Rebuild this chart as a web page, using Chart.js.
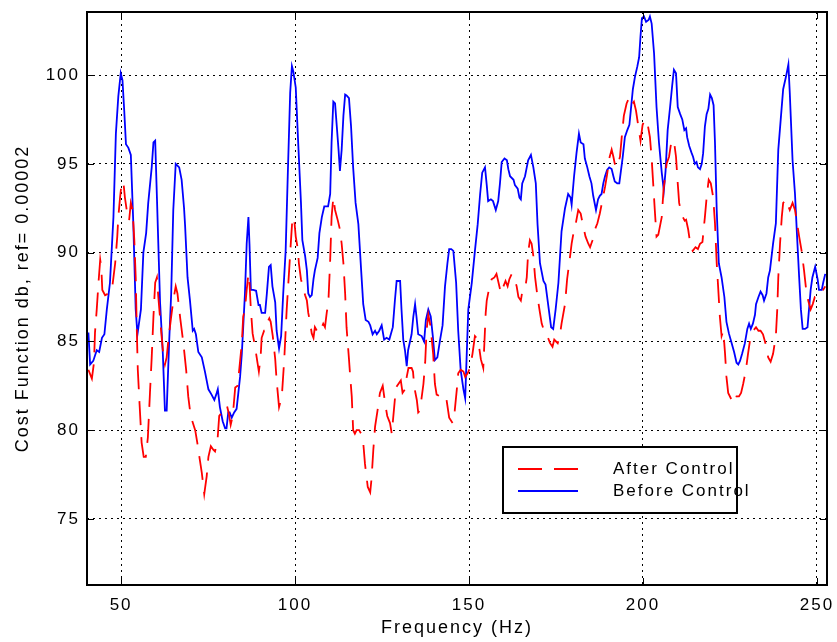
<!DOCTYPE html>
<html>
<head>
<meta charset="utf-8">
<script src="https://cdn.jsdelivr.net/npm/chart.js@4.4.1/dist/chart.umd.min.js"></script>
<style>
    html, body { margin: 0; padding: 0; background: #ffffff; }
    canvas { display: block; }
</style>
</head>
<body>
<canvas id="costChart" width="837" height="642"></canvas>
<script>
// values
const freqBefore = [
    40.6, 41.1, 42.0, 43.0, 43.7, 44.5, 45.2, 45.9, 46.8, 47.8, 48.5, 49.2, 49.9, 50.4, 50.9, 51.4, 52.1, 52.8, 53.5, 54.2,
    54.7, 55.7, 56.4, 57.2, 57.8, 58.8, 59.3, 59.8, 60.3, 61.2, 62.0, 62.6, 63.1, 63.8, 64.4, 65.0, 65.7, 66.7, 67.4, 68.1,
    68.4, 69.1, 69.8, 70.6, 71.0, 71.5, 72.2, 73.2, 74.1, 75.1, 76.0, 76.8, 77.5, 77.8, 78.4, 79.2, 79.9, 80.3, 80.8, 81.2,
    81.8, 82.5, 83.2, 83.7, 84.2, 84.7, 85.1, 85.6, 86.1, 86.6, 86.9, 87.3, 88.0, 88.8, 89.5, 89.9, 90.4, 91.4, 91.9, 92.5,
    93.0, 93.5, 94.3, 94.7, 95.4, 96.0, 96.6, 97.3, 97.9, 98.6, 99.1, 99.5, 100.2, 100.9, 101.7, 102.1, 102.9, 103.4, 103.8, 104.3,
    104.8, 105.3, 105.7, 106.5, 107.0, 107.7, 108.4, 109.0, 109.5, 110.1, 110.5, 111.0, 111.5, 112.0, 112.5, 112.9, 113.4, 113.9, 114.4, 114.8,
    115.5, 116.1, 116.7, 117.4, 118.2, 119.0, 119.6, 120.3, 121.1, 121.6, 122.3, 123.0, 123.5, 124.2, 124.9, 125.6, 126.3, 127.1, 128.1, 128.7,
    129.2, 130.2, 130.6, 131.1, 131.6, 132.1, 132.5, 133.5, 134.0, 134.5, 134.9, 135.4, 136.4, 137.1, 137.6, 138.3, 139.0, 139.6, 140.2, 140.9,
    141.7, 142.4, 143.1, 143.8, 144.3, 144.9, 145.5, 146.3, 146.9, 147.6, 148.4, 148.9, 149.3, 149.8, 150.8, 151.7, 152.5, 153.2, 153.8, 154.6,
    155.1, 155.5, 156.3, 156.9, 157.7, 158.4, 158.9, 159.4, 160.2, 160.9, 161.3, 161.8, 162.8, 163.2, 164.0, 164.5, 164.9, 165.3, 166.1, 166.6,
    167.0, 167.8, 168.5, 169.2, 169.7, 170.4, 171.4, 172.0, 172.8, 173.6, 174.2, 174.9, 175.7, 176.6, 177.6, 178.5, 179.2, 179.5, 180.2, 180.9,
    181.6, 182.1, 182.9, 183.3, 184.0, 184.6, 185.2, 185.7, 186.5, 187.1, 187.6, 188.1, 188.6, 189.1, 189.7, 190.3, 191.0, 191.5, 191.9, 192.6,
    193.2, 193.6, 194.2, 194.8, 195.5, 196.1, 196.5, 197.1, 197.7, 198.4, 198.9, 199.3, 199.7, 200.3, 200.9, 201.6, 202.0, 202.5, 203.2, 203.9,
    204.6, 205.4, 206.0, 206.5, 207.1, 207.8, 208.4, 208.9, 209.5, 210.0, 210.7, 211.3, 211.9, 212.4, 212.7, 213.3, 214.0, 214.4, 214.9, 215.4,
    215.8, 216.4, 216.9, 217.3, 217.8, 218.3, 218.8, 219.3, 219.8, 220.3, 220.7, 221.2, 221.8, 222.6, 223.4, 224.0, 224.7, 225.5, 226.2, 226.9,
    227.4, 227.9, 228.5, 229.3, 230.0, 230.5, 231.0, 231.6, 232.2, 232.5, 233.2, 233.8, 234.4, 234.8, 235.5, 236.0, 236.5, 237.4, 238.2, 238.9,
    239.6, 240.3, 241.1, 241.8, 242.2, 243.0, 243.7, 244.3, 244.9, 245.4, 245.9, 246.6, 247.3, 248.2, 248.7, 249.5, 250.2, 250.6, 251.4, 251.8,
    252.4
];
const costBefore = [
    85.5, 83.7, 83.9, 84.5, 84.4, 85.2, 85.4, 86.8, 88.3, 92.0, 96.7, 98.8, 100.1, 99.7, 98.0, 96.1, 95.9, 95.5, 91.7, 86.8,
    85.4, 86.8, 90.0, 91.1, 92.8, 94.8, 96.2, 96.3, 93.1, 87.2, 84.3, 81.1, 81.1, 84.9, 87.7, 92.4, 95.0, 94.8, 94.1, 92.5,
    91.5, 88.6, 87.3, 85.6, 85.7, 85.4, 84.4, 84.1, 83.3, 82.3, 82.0, 81.7, 82.1, 82.3, 81.3, 80.5, 80.1, 80.1, 81.0, 81.0,
    80.7, 81.0, 81.2, 82.1, 83.0, 84.3, 85.8, 87.7, 90.5, 92.0, 90.5, 87.9, 87.9, 87.85, 87.05, 87.05, 86.6, 86.6, 87.7, 89.2,
    89.3, 88.1, 87.2, 85.6, 84.6, 85.3, 87.7, 90.1, 94.3, 99.0, 100.5, 100.2, 99.3, 96.2, 92.8, 90.7, 89.8, 89.0, 87.7, 87.5,
    87.6, 88.5, 89.0, 89.7, 91.1, 92.0, 92.6, 92.6, 92.6, 93.3, 96.2, 98.5, 98.4, 97.1, 95.8, 94.6, 95.8, 97.7, 98.9, 98.85,
    98.7, 97.1, 94.8, 92.8, 91.6, 89.0, 87.1, 86.2, 86.1, 85.9, 85.4, 85.6, 85.4, 85.6, 85.9, 85.1, 85.2, 85.1, 85.8, 87.3,
    88.4, 88.4, 86.8, 85.1, 84.5, 83.6, 84.5, 85.4, 86.4, 87.1, 86.4, 85.4, 85.3, 85.0, 86.2, 86.8, 86.4, 85.3, 83.95, 84.1,
    85.1, 85.9, 88.1, 89.4, 90.2, 90.2, 90.1, 88.3, 85.6, 83.4, 82.3, 81.8, 84.0, 86.8, 88.3, 90.1, 91.6, 93.3, 94.5, 94.8,
    93.8, 92.9, 93.0, 92.9, 92.4, 92.9, 93.9, 95.1, 95.3, 95.2, 94.7, 94.3, 94.1, 93.8, 93.6, 93.1, 93.0, 93.9, 94.3, 94.8,
    95.2, 95.5, 94.8, 93.9, 91.6, 89.4, 88.4, 88.2, 87.0, 85.8, 85.7, 86.8, 88.3, 91.2, 92.5, 93.3, 93.1, 92.7, 94.3, 95.6,
    96.7, 96.2, 96.1, 95.3, 94.8, 94.3, 93.9, 93.2, 92.4, 93.0, 93.2, 93.3, 93.9, 94.3, 94.65, 94.8, 94.7, 94.3, 94.0, 93.9,
    93.9, 94.5, 95.4, 96.5, 96.9, 97.2, 98.0, 99.2, 99.9, 100.5, 101.0, 102.2, 103.2, 103.3, 103.0, 103.1, 103.3, 102.9, 101.2, 98.2,
    96.2, 94.5, 93.5, 94.6, 96.9, 98.2, 99.4, 100.3, 100.1, 98.2, 97.8, 97.5, 96.9, 97.0, 96.5, 96.0, 95.6, 95.4, 95.0, 95.1,
    94.8, 94.7, 95.0, 95.6, 97.1, 97.8, 98.1, 98.9, 98.7, 98.3, 96.2, 92.4, 89.4, 88.6, 87.5, 86.1, 85.45, 84.9, 84.4, 83.8,
    83.7, 83.9, 84.3, 84.9, 85.7, 86.0, 85.7, 86.0, 86.5, 87.1, 87.5, 87.8, 87.6, 87.3, 87.7, 88.6, 89.0, 90.5, 91.65, 95.8,
    97.5, 99.2, 99.9, 100.6, 99.0, 95.2, 93.3, 90.9, 88.6, 86.8, 85.7, 85.7, 85.8, 87.9, 88.6, 89.2, 88.5, 87.9, 87.9, 88.3,
    88.8
];
const freqAfter = [
    40.6, 41.6, 42.2, 42.5, 43.0, 43.5, 44.0, 44.3, 44.6, 45.4, 46.4, 47.3, 48.3, 48.9, 49.2, 49.7, 50.2, 50.7, 51.1, 51.9,
    52.3, 52.8, 53.3, 53.8, 54.2, 54.5, 54.8, 55.3, 55.9, 56.5, 57.1, 57.7, 58.3, 58.8, 59.3, 59.8, 60.3, 60.7, 61.5, 62.2,
    62.6, 63.1, 63.6, 64.4, 65.0, 65.7, 66.2, 67.0, 67.9, 68.7, 69.3, 70.0, 71.3, 71.9, 72.5, 73.2, 73.9, 74.6, 75.1, 75.8,
    76.5, 77.0, 77.7, 78.2, 79.0, 79.7, 80.4, 81.0, 81.5, 82.1, 82.8, 83.5, 84.0, 84.7, 85.1, 85.6, 86.1, 86.6, 86.9, 87.3,
    87.8, 88.5, 89.2, 89.6, 90.1, 90.4, 91.1, 91.6, 92.1, 92.6, 93.0, 93.6, 94.3, 94.7, 95.4, 96.2, 96.9, 97.6, 98.3, 98.9,
    99.2, 99.7, 100.2, 100.8, 101.1, 101.7, 102.2, 102.9, 103.4, 103.8, 104.3, 104.8, 105.3, 105.7, 106.7, 107.5, 108.1, 108.6, 109.1, 109.6,
    110.1, 110.5, 111.0, 111.5, 112.3, 112.9, 113.4, 113.9, 114.4, 114.8, 115.5, 115.9, 116.3, 116.7, 117.2, 117.7, 118.4, 119.0, 119.6, 120.1,
    120.9, 121.6, 122.0, 122.5, 123.0, 123.7, 124.4, 125.2, 125.9, 126.5, 127.3, 127.8, 128.4, 129.0, 129.7, 130.4, 130.9, 131.6, 132.1, 132.6,
    133.5, 133.9, 134.3, 135.0, 135.4, 135.9, 136.9, 137.4, 137.8, 138.3, 138.8, 139.2, 139.7, 140.2, 140.7, 141.7, 142.6, 143.4, 144.3, 145.3,
    145.9, 146.5, 146.9, 147.6, 148.4, 148.9, 149.6, 150.3, 151.0, 151.7, 152.6, 153.4, 154.1, 154.4, 154.8, 155.1, 155.7, 156.5, 157.3, 157.9,
    159.2, 159.9, 160.5, 161.1, 161.6, 162.3, 163.1, 163.7, 164.2, 164.9, 165.3, 166.1, 166.6, 167.0, 167.5, 168.0, 168.5, 169.0, 169.7, 170.4,
    170.9, 171.6, 172.3, 173.3, 174.0, 174.5, 175.5, 176.1, 176.6, 177.6, 178.2, 178.8, 179.5, 180.2, 180.7, 181.4, 182.1, 182.8, 183.5, 184.3,
    184.8, 185.5, 186.2, 186.9, 187.6, 188.3, 189.1, 189.7, 190.3, 191.0, 191.5, 192.0, 192.6, 193.4, 193.9, 194.5, 195.3, 196.0, 196.7, 197.4,
    198.0, 198.6, 199.3, 199.9, 200.6, 201.2, 202.0, 202.5, 203.0, 203.4, 203.9, 204.4, 205.4, 205.9, 206.8, 207.5, 208.2, 208.9, 209.5, 210.0,
    210.4, 211.2, 212.0, 212.4, 213.0, 213.6, 214.3, 215.1, 215.8, 216.4, 217.1, 217.8, 218.3, 218.9, 219.5, 220.2, 220.7, 221.2, 221.6, 222.1,
    222.6, 223.1, 223.6, 224.0, 224.5, 225.5, 226.2, 226.9, 227.6, 228.2, 228.8, 229.6, 230.2, 230.8, 231.7, 232.5, 233.2, 233.8, 234.5, 235.2,
    236.0, 236.7, 237.4, 238.2, 238.6, 238.9, 239.4, 239.9, 240.3, 240.8, 241.3, 241.8, 242.2, 243.0, 243.7, 244.3, 244.9, 245.6, 246.3, 246.8,
    247.5, 248.2, 248.8, 249.4, 250.1, 250.8, 251.8, 252.4
];
const costAfter = [
    83.4, 82.9, 83.8, 85.5, 86.8, 88.3, 89.6, 89.2, 87.9, 87.6, 87.7, 87.8, 89.4, 90.9, 92.0, 93.1, 94.0, 93.9, 93.1, 92.0,
    91.8, 92.8, 92.4, 90.7, 88.6, 85.8, 83.4, 81.5, 79.3, 78.5, 78.5, 79.6, 82.1, 84.1, 86.4, 88.3, 88.6, 87.5, 85.6, 84.1,
    83.7, 84.1, 85.1, 86.4, 87.3, 88.1, 87.7, 86.3, 84.9, 83.4, 81.9, 80.8, 80.0, 79.3, 78.5, 77.6, 76.4, 77.4, 78.5, 79.1,
    78.9, 78.8, 79.4, 80.8, 81.0, 81.1, 81.4, 80.9, 80.3, 80.8, 82.4, 82.5, 83.5, 84.9, 86.4, 86.8, 87.9, 88.8, 88.3, 86.8,
    85.45, 84.7, 83.8, 83.3, 84.1, 85.2, 85.6, 85.6, 86.1, 86.3, 86.1, 85.3, 84.0, 82.8, 81.3, 81.9, 84.0, 86.8, 89.0, 90.9,
    91.8, 92.0, 90.9, 90.2, 89.4, 88.5, 88.1, 87.6, 87.3, 86.6, 86.1, 85.45, 85.2, 85.8, 85.45, 85.7, 86.0, 85.8, 86.6, 87.3,
    89.6, 92.0, 93.1, 92.4, 91.8, 91.3, 90.5, 89.4, 87.7, 85.8, 84.0, 82.9, 81.9, 80.0, 79.8, 80.0, 80.0, 79.8, 79.3, 78.1,
    76.8, 76.5, 77.3, 78.9, 80.2, 81.1, 82.1, 82.5, 81.5, 80.8, 80.4, 79.8, 81.1, 82.4, 82.6, 82.8, 82.1, 82.3, 83.0, 83.5,
    83.5, 83.3, 82.4, 81.7, 81.0, 81.1, 82.6, 83.8, 85.6, 86.5, 86.0, 85.3, 84.3, 82.6, 82.0, 81.9, 82.0, 81.9, 80.7, 80.4,
    81.1, 82.3, 83.2, 83.4, 83.3, 83.0, 83.2, 83.5, 84.3, 85.3, 85.1, 84.0, 83.5, 84.8, 86.6, 87.3, 87.9, 88.5, 88.6, 88.8,
    87.7, 88.1, 88.4, 88.1, 88.5, 88.8, 88.5, 88.1, 87.5, 87.3, 87.8, 87.9, 88.6, 90.0, 90.7, 90.5, 89.8, 88.6, 87.5, 86.6,
    86.0, 85.6, 85.4, 84.9, 84.7, 85.1, 84.9, 85.3, 86.0, 87.1, 88.5, 89.4, 90.5, 91.3, 91.65, 92.4, 92.2, 91.5, 90.9, 90.5,
    90.3, 90.7, 91.3, 91.65, 92.2, 92.9, 93.7, 94.4, 95.3, 95.8, 95.4, 94.9, 94.8, 95.4, 96.5, 97.7, 98.4, 98.7, 98.3, 98.5,
    98.0, 97.2, 96.3, 97.2, 97.5, 97.4, 96.5, 95.3, 93.7, 92.4, 90.9, 91.0, 92.0, 93.5, 95.0, 95.4, 96.3, 96.3, 95.4, 93.9,
    92.8, 92.1, 91.8, 91.85, 91.3, 90.5, 90.1, 90.3, 90.2, 90.5, 90.6, 92.0, 93.1, 94.1, 93.9, 93.1, 91.65, 89.4, 88.1, 86.4,
    85.3, 85.6, 84.3, 83.0, 82.1, 81.7, 81.5, 81.9, 81.9, 82.1, 82.6, 83.4, 84.3, 85.1, 85.6, 85.8, 85.6, 85.6, 85.4, 84.9,
    84.1, 83.85, 84.3, 85.3, 86.8, 88.6, 90.5, 92.0, 92.8, 92.9, 93.0, 92.6, 92.4, 92.8, 92.4, 91.65, 90.9, 90.1, 89.0, 88.1,
    87.3, 86.8, 87.1, 87.5, 87.5, 87.5, 87.9, 88.1
];

const xTicks = [50, 100, 150, 200, 250];
const yTicks = [75, 80, 85, 90, 95, 100];
const seriesNames = ["After Control", "Before Control"];

const textFont = "'Liberation Sans', Arial, sans-serif";
const spacing = "2px";

function toPoints(xs, ys) {
    return xs.map((x, i) => ({ x: x, y: ys[i] }));
}

// MATLAB style frame: box round the axes with ticks pointing inward
const framePlugin = {
    id: "frame",
    beforeLayout(chart) {
        chart.ctx.letterSpacing = spacing;
    },
    beforeDraw(chart) {
        chart.ctx.letterSpacing = spacing;
    },
    afterDatasetsDraw(chart) {
        const { ctx, chartArea: a, scales } = chart;
        const len = 7;
        ctx.save();
        ctx.strokeStyle = "#000000";
        ctx.lineWidth = 1;
        ctx.beginPath();
        xTicks.forEach((v) => {
            const px = Math.round(scales.x.getPixelForValue(v)) + 0.5;
            ctx.moveTo(px, a.bottom);
            ctx.lineTo(px, a.bottom - len);
            ctx.moveTo(px, a.top);
            ctx.lineTo(px, a.top + len);
        });
        yTicks.forEach((v) => {
            const py = Math.round(scales.y.getPixelForValue(v)) + 0.5;
            ctx.moveTo(a.left, py);
            ctx.lineTo(a.left + len, py);
            ctx.moveTo(a.right, py);
            ctx.lineTo(a.right - len, py);
        });
        ctx.stroke();
        ctx.lineWidth = 2;
        ctx.strokeRect(a.left, a.top, a.right - a.left, a.bottom - a.top);
        ctx.restore();
    },
    afterDraw(chart) {
        // legend box, lower right of the axes
        const { ctx, chartArea: a } = chart;
        const box = { left: a.left + 416, top: a.top + 435, width: 234, height: 66 };
        ctx.save();
        ctx.fillStyle = "#ffffff";
        ctx.fillRect(box.left, box.top, box.width, box.height);
        ctx.lineWidth = 2;
        ctx.strokeStyle = "#000000";
        ctx.strokeRect(box.left, box.top, box.width, box.height);
        ctx.font = "17px " + textFont;
        ctx.letterSpacing = spacing;
        ctx.textBaseline = "middle";
        ctx.fillStyle = "#000000";
        chart.data.datasets.forEach((ds, i) => {
            const y = box.top + 22 + i * 22;
            ctx.strokeStyle = ds.borderColor;
            ctx.lineWidth = ds.borderWidth;
            ctx.setLineDash(ds.borderDash || []);
            ctx.beginPath();
            ctx.moveTo(box.left + 15, y);
            ctx.lineTo(box.left + 75, y);
            ctx.stroke();
            ctx.setLineDash([]);
            ctx.fillText(ds.label, box.left + 110, y);
        });
        ctx.restore();
    }
};

const ctx = document.getElementById("costChart").getContext("2d");

new Chart(ctx, {
    type: "line",
    data: {
        datasets: [
            {
                label: seriesNames[0],
                data: toPoints(freqAfter, costAfter),
                borderColor: "#ff0000",
                borderWidth: 1.8,
                borderDash: [24, 12],
                pointRadius: 0,
                tension: 0,
                fill: false
            },
            {
                label: seriesNames[1],
                data: toPoints(freqBefore, costBefore),
                borderColor: "#0000ff",
                borderWidth: 1.8,
                pointRadius: 0,
                tension: 0,
                fill: false
            }
        ]
    },
    options: {
        responsive: false,
        animation: false,
        layout: { padding: { left: 0, top: 12, right: 10, bottom: 0 } },
        plugins: {
            legend: { display: false },
            tooltip: { enabled: false }
        },
        scales: {
            x: {
                type: "linear",
                min: 40.2,
                max: 252.9,
                afterBuildTicks: (scale) => {
                    scale.ticks = xTicks.map((v) => ({ value: v }));
                },
                afterFit: (scale) => {
                    scale.height = 57;
                    scale.paddingLeft = 0;
                    scale.paddingRight = 0;
                },
                ticks: {
                    autoSkip: false,
                    maxRotation: 0,
                    padding: 10,
                    color: "#000000",
                    font: { family: textFont, size: 17 }
                },
                grid: {
                    color: "#000000",
                    lineWidth: 1,
                    drawTicks: false
                },
                border: { display: false, dash: [2, 4] },
                title: {
                    display: true,
                    text: "Frequency (Hz)",
                    color: "#000000",
                    font: { family: textFont, size: 18 },
                    padding: { top: 0, bottom: 3 }
                }
            },
            y: {
                type: "linear",
                min: 71.28,
                max: 103.55,
                afterBuildTicks: (scale) => {
                    scale.ticks = yTicks.map((v) => ({ value: v }));
                },
                afterFit: (scale) => {
                    scale.width = 87;
                    scale.paddingTop = 0;
                    scale.paddingBottom = 0;
                },
                ticks: {
                    autoSkip: false,
                    padding: 7,
                    color: "#000000",
                    font: { family: textFont, size: 17 }
                },
                grid: {
                    color: "#000000",
                    lineWidth: 1,
                    drawTicks: false
                },
                border: { display: false, dash: [2, 4] },
                title: {
                    display: true,
                    text: "Cost Function db, ref= 0.00002",
                    color: "#000000",
                    font: { family: textFont, size: 18 },
                    padding: { top: 12, bottom: 0 }
                }
            }
        }
    },
    plugins: [framePlugin]
});
</script>
</body>
</html>
